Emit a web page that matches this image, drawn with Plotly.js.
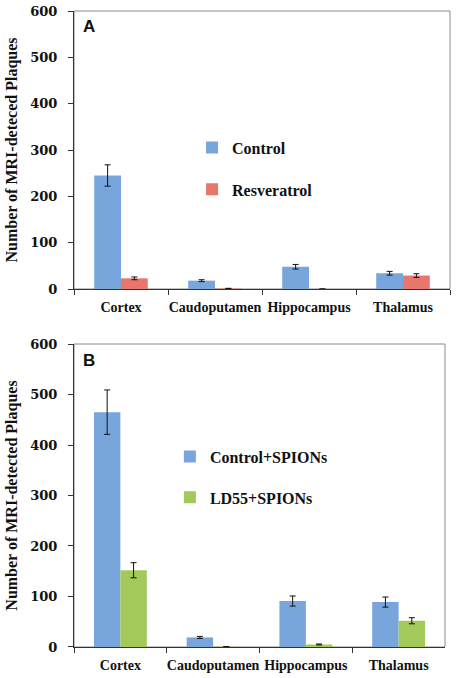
<!DOCTYPE html>
<html>
<head>
<meta charset="utf-8">
<script src="https://cdn.plot.ly/plotly-3.0.1.min.js"></script>
<style>html,body{margin:0;padding:0;background:#fff;}#chart{width:456px;height:678px;}</style>
</head>
<body>
<div id="chart"></div>
<script>
const regions = ["Cortex", "Caudoputamen", "Hippocampus", "Thalamus"];

// Panel A
const controlA = [245, 18, 48, 34];
const controlAErr = [23, 2, 5, 4];
const resveratrol = [23, 1, 0, 29];
const resveratrolErr = [3, 0.5, 0, 4];

// Panel B
const controlB = [465, 19, 91, 89];
const controlBErr = [44, 2, 10, 10];
const ld55 = [152, 0.5, 5, 52];
const ld55Err = [15, 0.3, 1, 6];

const yTicks = [0, 100, 200, 300, 400, 500, 600];

const serifBold = {family: "Liberation Serif", weight: 700, color: "#111"};
const blue = "#77a5dc", red = "#e8766d", green = "#a3c95b";

function errStyle(arr) {
  return {type: "data", array: arr, visible: true, color: "#111", thickness: 1, width: 3};
}

const traces = [
  {type: "bar", x: regions, y: controlA, name: "Control", marker: {color: blue},
   error_y: errStyle(controlAErr), xaxis: "x", yaxis: "y", legend: "legend", legendgroup: "a1"},
  {type: "bar", x: regions, y: resveratrol, name: "Resveratrol", marker: {color: red},
   error_y: errStyle(resveratrolErr), xaxis: "x", yaxis: "y", legend: "legend", legendgroup: "a2"},
  {type: "bar", x: regions, y: controlB, name: "Control+SPIONs", marker: {color: blue},
   error_y: errStyle(controlBErr), xaxis: "x2", yaxis: "y2", legend: "legend2", legendgroup: "b1"},
  {type: "bar", x: regions, y: ld55, name: "LD55+SPIONs", marker: {color: green},
   error_y: errStyle(ld55Err), xaxis: "x2", yaxis: "y2", legend: "legend2", legendgroup: "b2"}
];

function xAxis(domain, anchor) {
  return {
    domain: domain, anchor: anchor, type: "category",
    showline: true, linecolor: "#333", linewidth: 1,
    ticks: "outside", tickson: "boundaries", ticklen: 5, tickcolor: "#333",
    tickangle: 0, ticklabelstandoff: 5,
    tickfont: Object.assign({size: 14}, serifBold),
    showgrid: false, zeroline: false, fixedrange: true
  };
}
function yAxis(domain, anchor, title) {
  return {
    domain: domain, anchor: anchor, range: [0, 600],
    tickvals: yTicks, ticktext: yTicks.map(String),
    showline: true, linecolor: "#333", linewidth: 1,
    ticks: "outside", ticklen: 5, tickcolor: "#333", ticklabelstandoff: 8,
    tickfont: {family: "DejaVu Serif", weight: 700, size: 13, color: "#111"},
    showgrid: false, zeroline: false,
    title: {text: title, font: Object.assign({size: 16}, serifBold), standoff: 8}
  };
}

const layout = {
  width: 456, height: 678,
  margin: {l: 74, r: 6, t: 11, b: 31},
  paper_bgcolor: "#fff", plot_bgcolor: "#fff",
  barmode: "group", bargap: 0.43, bargroupgap: 0,
  xaxis: xAxis([0, 1], "y"),
  yaxis: yAxis([0.5629, 1], "x", "Number of MRI-deteced Plaques"),
  xaxis2: xAxis([0, 0.9867], "y2"),
  yaxis2: yAxis([0, 0.4764], "x2", "Number of MRI-detected Plaques"),
  legend: {x: 0.314, y: 0.812, xanchor: "left", yanchor: "top",
           font: Object.assign({size: 16}, serifBold), bgcolor: "rgba(0,0,0,0)",
           traceorder: "grouped", tracegroupgap: 18, itemwidth: 30},
  legend2: {x: 0.255, y: 0.326, xanchor: "left", yanchor: "top",
           font: Object.assign({size: 16}, serifBold), bgcolor: "rgba(0,0,0,0)",
           traceorder: "grouped", tracegroupgap: 17, itemwidth: 30},
  shapes: [
    {type: "rect", xref: "x domain", yref: "y domain", x0: 0, x1: 1, y0: 0, y1: 1,
     line: {color: "#8a8a8a", width: 1}, layer: "below"},
    {type: "rect", xref: "x2 domain", yref: "y2 domain", x0: 0, x1: 1, y0: 0, y1: 1,
     line: {color: "#8a8a8a", width: 1}, layer: "below"}
  ],
  annotations: [
    {text: "A", xref: "paper", yref: "paper", x: 0.04, y: 0.976, showarrow: false,
     xanchor: "center", yanchor: "middle",
     font: {family: "Liberation Sans", weight: 700, size: 17, color: "#111"}},
    {text: "B", xref: "paper", yref: "paper", x: 0.04, y: 0.45, showarrow: false,
     xanchor: "center", yanchor: "middle",
     font: {family: "Liberation Sans", weight: 700, size: 17, color: "#111"}}
  ],
  showlegend: true
};

Plotly.newPlot("chart", traces, layout, {displayModeBar: false, staticPlot: true});
</script>
</body>
</html>
